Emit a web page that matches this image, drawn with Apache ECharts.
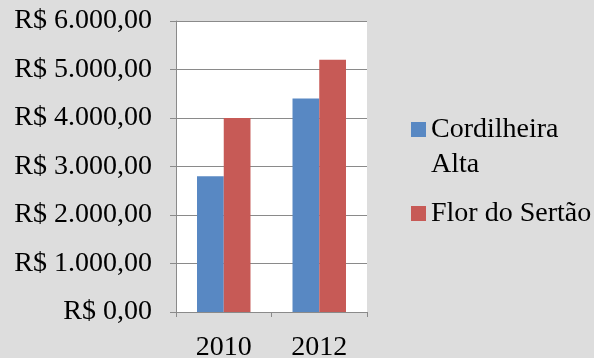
<!DOCTYPE html>
<html>
<head>
<meta charset="utf-8">
<script src="https://cdn.jsdelivr.net/npm/echarts@6/dist/echarts.min.js"></script>
<style>
  html, body { margin: 0; padding: 0; background: #dddddd; }
  #chart { width: 594px; height: 358px; }
</style>
</head>
<body>
<div id="chart"></div>
<script>
var years = ['2010', '2012'];
var cordilheiraAlta = [2800, 4400];
var florDoSertao = [4000, 5200];
var seriesNames = ['Cordilheira Alta', 'Flor do Sertão'];
var yMin = 0, yMax = 6000, yStep = 1000;

var FONT = 'Liberation Serif';

// R$ 1.000,00
function brl(v) {
  var parts = v.toFixed(2).split('.');
  var inteiro = parts[0].replace(/\B(?=(\d{3})+(?!\d))/g, '.');
  return 'R$ ' + inteiro + ',' + parts[1];
}

var chart = echarts.init(document.getElementById('chart'));

var option = {
  backgroundColor: '#dddddd',
  animation: false,
  color: ['#5888c3', '#c75a56'],
  grid: {
    show: true,
    left: 176,
    top: 21,
    width: 191,
    height: 291,
    outerBoundsMode: 'none', // year labels run off the bottom edge, keep the plot size fixed
    backgroundColor: '#ffffff',
    borderWidth: 0
  },
  legend: {
    orient: 'vertical',
    left: 406,
    top: 72,
    padding: 5,
    itemWidth: 15,
    itemHeight: 15,
    itemGap: 14,
    icon: 'rect',
    // empty first line keeps the square level with "Cordilheira"
    formatter: function (name) {
      return name == 'Cordilheira Alta' ? '\nCordilheira\nAlta' : name;
    },
    textStyle: {
      fontFamily: FONT,
      fontSize: 28,
      lineHeight: 35,
      color: '#000'
    },
    data: seriesNames
  },
  xAxis: {
    type: 'category',
    data: years,
    axisLine: { lineStyle: { color: '#8a8a8a', width: 1 } },
    axisTick: { show: true, length: 5, lineStyle: { color: '#8a8a8a' } },
    axisLabel: {
      margin: 22,
      fontFamily: FONT,
      fontSize: 28,
      color: '#000'
    }
  },
  yAxis: {
    type: 'value',
    min: yMin,
    max: yMax,
    interval: yStep,
    axisLine: { show: true, lineStyle: { color: '#8a8a8a', width: 1 } },
    axisTick: { show: true, length: 6, lineStyle: { color: '#8a8a8a' } },
    splitLine: { show: true, lineStyle: { color: '#8a8a8a', width: 1 } },
    axisLabel: {
      margin: 24,
      fontFamily: FONT,
      fontSize: 28,
      color: '#000',
      formatter: brl
    }
  },
  series: [{
    name: seriesNames[0],
    type: 'bar',
    barGap: '0%',
    barCategoryGap: '44%',
    data: cordilheiraAlta
  }, {
    name: seriesNames[1],
    type: 'bar',
    barGap: '0%',
    barCategoryGap: '44%',
    data: florDoSertao
  }]
};

chart.setOption(option);
</script>
</body>
</html>
